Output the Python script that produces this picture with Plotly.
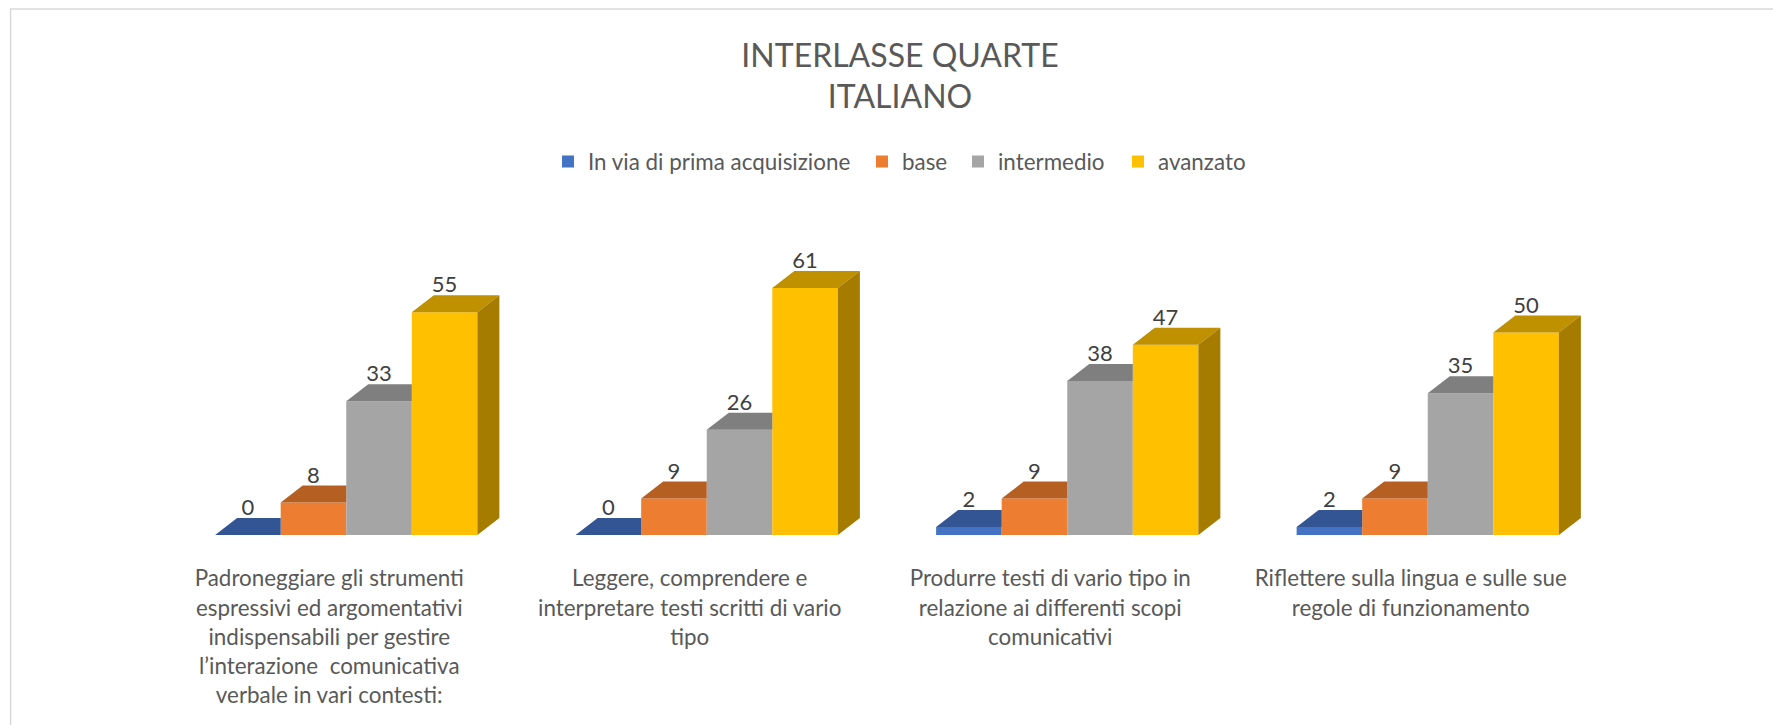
import plotly.graph_objects as go

# ---- data ----
categories = [
    "Padroneggiare gli strumenti<br>espressivi ed argomentativi<br>indispensabili per gestire<br>l’interazione  comunicativa<br>verbale in vari contesti:",
    "Leggere, comprendere e<br>interpretare testi scritti di vario<br>tipo",
    "Produrre testi di vario tipo in<br>relazione ai differenti scopi<br>comunicativi",
    "Riflettere sulla lingua e sulle sue<br>regole di funzionamento",
]
series_names = ["In via di prima acquisizione", "base", "intermedio", "avanzato"]
acquisizione = [0, 0, 2, 2]
base = [8, 9, 9, 9]
intermedio = [33, 26, 38, 35]
avanzato = [55, 61, 47, 50]
title_lines = ["INTERLASSE QUARTE", "ITALIANO"]

# ---- style ----
front_colors = ["#4472C4", "#ED7D31", "#A5A5A5", "#FFC000"]
top_colors = ["#335593", "#B65F22", "#7F7F7F", "#BF9000"]
side_colors = ["#2D4C85", "#A0521D", "#6E6E6E", "#A67C00"]
legend_text_px = [586, 900, 996, 1156]   # where each legend text starts
FONT = "Lato"
W, H = 1773, 725
PL, PR = 165.5, 1608.3      # plot area, pixels
BASE_Y, PX_PER_UNIT = 535, 4.05
Y_MAX = 80

cat_px = (PR - PL) / 4
bar_w = 65.6 / cat_px
depth_x = 22 / cat_px
depth_y = 17 / PX_PER_UNIT
label_gap = 8.5 / PX_PER_UNIT
label_shift = 17 / cat_px

values = [acquisizione, base, intermedio, avanzato]
n_series = len(values)
fig = go.Figure()

for s, vals in enumerate(values):
    xs = [c + (s - n_series / 2 + 0.5) * bar_w for c in range(len(vals))]
    last = s == n_series - 1
    # top faces (the part hidden behind the next bar is left out)
    tx, ty = [], []
    for x, v in zip(xs, vals):
        x0, x1 = x - bar_w / 2, x + bar_w / 2
        right = x1 + depth_x if last else x1
        tx += [x0, x0 + depth_x, right, x1, x0, None]
        ty += [v, v + depth_y, v + depth_y, v, v, None]
    fig.add_trace(go.Scatter(x=tx, y=ty, mode="none", fill="toself", fillcolor=top_colors[s],
                             showlegend=False, hoverinfo="skip"))
    # side faces: only the last series shows them
    if last:
        sx, sy = [], []
        for x, v in zip(xs, vals):
            x1 = x + bar_w / 2
            sx += [x1, x1 + depth_x, x1 + depth_x, x1, x1, None]
            sy += [0, depth_y, v + depth_y, v, 0, None]
        fig.add_trace(go.Scatter(x=sx, y=sy, mode="none", fill="toself", fillcolor=side_colors[s],
                                 showlegend=False, hoverinfo="skip"))
    # front faces
    fig.add_trace(go.Bar(x=xs, y=vals, width=bar_w, name=series_names[s],
                         legend="legend" if s == 0 else f"legend{s + 1}",
                         marker=dict(color=front_colors[s], line=dict(width=0))))
    # value labels
    fig.add_trace(go.Scatter(x=xs, y=[v + depth_y + label_gap for v in vals], mode="text",
                             text=[str(v) for v in vals], textposition="middle center",
                             textfont=dict(family=FONT, size=22, color="#404040"),
                             showlegend=False, hoverinfo="skip", cliponaxis=False))

legends = {}
for s, t in enumerate(legend_text_px):
    key = "legend" if s == 0 else f"legend{s + 1}"
    legends[key] = dict(orientation="h", xref="container", x=(t + 3 - 41) / W, xanchor="left",
                        yref="container", y=1 - 162 / H, yanchor="middle",
                        font=dict(family=FONT, size=22.4, color="#595959"),
                        bgcolor="rgba(0,0,0,0)")

fig.update_layout(
    width=W, height=H, barmode="overlay", paper_bgcolor="white", plot_bgcolor="white",
    margin=dict(l=PL, r=W - PR, t=BASE_Y - Y_MAX * PX_PER_UNIT, b=H - BASE_Y, pad=0),
    font=dict(family=FONT, color="#595959"),
    title=dict(
        text="<br>".join(title_lines),
        font=dict(family=FONT, size=32, color="#595959"),
        x=900 / W, xanchor="center", y=0.908, yanchor="middle",
    ),
    xaxis=dict(range=[-0.5, 3.5], tickmode="array",
               tickvals=[i - label_shift for i in range(4)],
               ticktext=categories,
               tickangle=0, ticks="", showgrid=False, zeroline=False, showline=False,
               ticklabelstandoff=28,
               tickfont=dict(family=FONT, size=22.4, color="#595959")),
    yaxis=dict(range=[0, Y_MAX], visible=False, showgrid=False, zeroline=False),
    shapes=[dict(type="rect", xref="paper", yref="paper",
                 x0=-(PL - 10) / (PR - PL), x1=(W + 20 - PL) / (PR - PL),
                 y0=-(H + 20 - BASE_Y) / (Y_MAX * PX_PER_UNIT),
                 y1=(BASE_Y - 9) / (Y_MAX * PX_PER_UNIT),
                 line=dict(color="#D9D9D9", width=1.5), layer="below")],
    **legends,
)

fig.write_html("out.html", config={"displayModeBar": False},
               post_script="document.body.style.margin='0';document.body.style.overflow='hidden';")
